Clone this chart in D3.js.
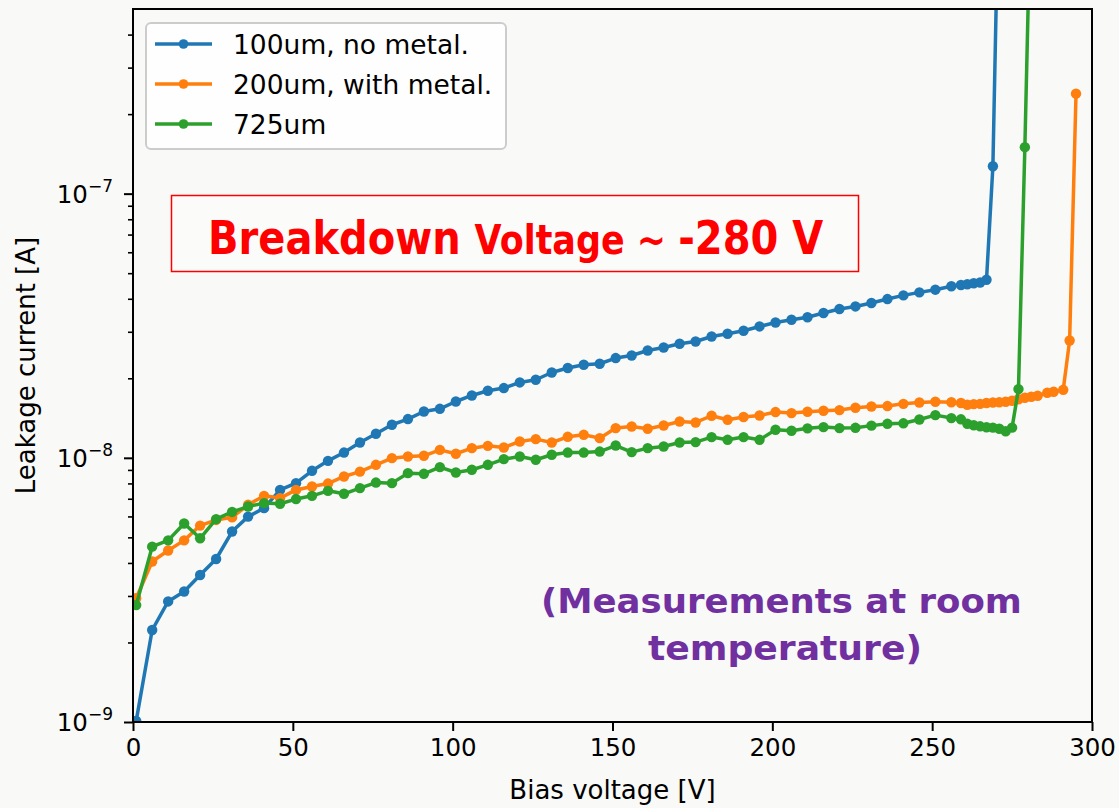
<!DOCTYPE html>
<html>
<head>
<meta charset="utf-8">
<script src="https://cdn.jsdelivr.net/npm/d3@7"></script>
<style>
  html, body { margin: 0; padding: 0; background: #f9f9f7; }
  svg { display: block; }
  text { font-family: "DejaVu Sans", sans-serif; }
</style>
</head>
<body>
<svg id="chart" width="1119" height="808"></svg>
<script>
// ---- data: bias voltage [V] and leakage current [A] per sensor ----
const seriesNames = ["100um, no metal.", "200um, with metal.", "725um"];
const seriesColors = ["#1f77b4", "#ff7f0e", "#2ca02c"];

const voltage100 = [1, 6, 11, 16, 21, 26, 31, 36, 41, 46, 51, 56, 61, 66, 71, 76, 81, 86, 91, 96,
  101, 106, 111, 116, 121, 126, 131, 136, 141, 146, 151, 156, 161, 166, 171, 176, 181, 186, 191, 196,
  201, 206, 211, 216, 221, 226, 231, 236, 241, 246, 251, 256, 259, 261, 263, 265, 267, 269, 271];
const current100 = [1.01e-9, 2.23e-9, 2.86e-9, 3.12e-9, 3.60e-9, 4.14e-9, 5.26e-9, 5.99e-9, 6.45e-9, 7.56e-9,
  8.02e-9, 8.93e-9, 9.74e-9, 1.047e-8, 1.143e-8, 1.233e-8, 1.334e-8, 1.402e-8, 1.498e-8, 1.533e-8,
  1.634e-8, 1.722e-8, 1.794e-8, 1.837e-8, 1.929e-8, 1.975e-8, 2.104e-8, 2.187e-8, 2.251e-8, 2.270e-8,
  2.386e-8, 2.440e-8, 2.549e-8, 2.617e-8, 2.703e-8, 2.757e-8, 2.880e-8, 2.949e-8, 3.027e-8, 3.143e-8,
  3.254e-8, 3.332e-8, 3.405e-8, 3.532e-8, 3.659e-8, 3.742e-8, 3.855e-8, 3.990e-8, 4.120e-8, 4.230e-8,
  4.330e-8, 4.460e-8, 4.510e-8, 4.540e-8, 4.580e-8, 4.610e-8, 4.720e-8, 1.27e-7, 2.0e-6];

const voltage200 = [1, 6, 11, 16, 21, 26, 31, 36, 41, 46, 51, 56, 61, 66, 71, 76, 81, 86, 91, 96,
  101, 106, 111, 116, 121, 126, 131, 136, 141, 146, 151, 156, 161, 166, 171, 176, 181, 186, 191, 196,
  201, 206, 211, 216, 221, 226, 231, 236, 241, 246, 251, 256, 259, 261, 263, 265, 267, 269, 271, 273,
  275, 277, 279, 281, 283, 286, 288, 291, 293, 295];
const current200 = [2.94e-9, 4.05e-9, 4.46e-9, 4.87e-9, 5.54e-9, 5.82e-9, 5.95e-9, 6.64e-9, 7.18e-9, 7.04e-9,
  7.56e-9, 7.79e-9, 7.99e-9, 8.50e-9, 8.87e-9, 9.41e-9, 9.97e-9, 1.012e-8, 1.018e-8, 1.072e-8,
  1.036e-8, 1.088e-8, 1.110e-8, 1.094e-8, 1.153e-8, 1.177e-8, 1.143e-8, 1.201e-8, 1.222e-8, 1.187e-8,
  1.296e-8, 1.314e-8, 1.288e-8, 1.326e-8, 1.373e-8, 1.361e-8, 1.443e-8, 1.393e-8, 1.427e-8, 1.446e-8,
  1.490e-8, 1.477e-8, 1.494e-8, 1.507e-8, 1.516e-8, 1.547e-8, 1.564e-8, 1.570e-8, 1.601e-8, 1.620e-8,
  1.630e-8, 1.623e-8, 1.612e-8, 1.588e-8, 1.597e-8, 1.601e-8, 1.612e-8, 1.620e-8, 1.623e-8, 1.630e-8,
  1.644e-8, 1.666e-8, 1.688e-8, 1.703e-8, 1.718e-8, 1.763e-8, 1.778e-8, 1.809e-8, 2.78e-8, 2.39e-7];

const voltage725 = [1, 6, 11, 16, 21, 26, 31, 36, 41, 46, 51, 56, 61, 66, 71, 76, 81, 86, 91, 96,
  101, 106, 111, 116, 121, 126, 131, 136, 141, 146, 151, 156, 161, 166, 171, 176, 181, 186, 191, 196,
  201, 206, 211, 216, 221, 226, 231, 236, 241, 246, 251, 256, 259, 261, 263, 265, 267, 269, 271, 273,
  275, 277, 279, 281];
const current725 = [2.77e-9, 4.61e-9, 4.87e-9, 5.64e-9, 4.96e-9, 5.86e-9, 6.24e-9, 6.54e-9, 6.74e-9, 6.70e-9,
  6.98e-9, 7.18e-9, 7.50e-9, 7.31e-9, 7.68e-9, 8.06e-9, 8.02e-9, 8.75e-9, 8.70e-9, 9.22e-9,
  8.80e-9, 9.01e-9, 9.41e-9, 9.89e-9, 1.012e-8, 9.83e-9, 1.027e-8, 1.047e-8, 1.047e-8, 1.056e-8,
  1.113e-8, 1.051e-8, 1.088e-8, 1.104e-8, 1.143e-8, 1.147e-8, 1.198e-8, 1.170e-8, 1.198e-8, 1.170e-8,
  1.277e-8, 1.266e-8, 1.293e-8, 1.307e-8, 1.296e-8, 1.299e-8, 1.324e-8, 1.345e-8, 1.351e-8, 1.397e-8,
  1.451e-8, 1.414e-8, 1.399e-8, 1.345e-8, 1.328e-8, 1.316e-8, 1.305e-8, 1.301e-8, 1.288e-8, 1.260e-8,
  1.301e-8, 1.820e-8, 1.50e-7, 1.68e-6];

const xTicks = [0, 50, 100, 150, 200, 250, 300];
const yMajorTicks = [1e-9, 1e-8, 1e-7];
const yMajorExponents = ["\u22129", "\u22128", "\u22127"];
const yMinorTicks = [2e-9, 3e-9, 4e-9, 5e-9, 6e-9, 7e-9, 8e-9, 9e-9,
  2e-8, 3e-8, 4e-8, 5e-8, 6e-8, 7e-8, 8e-8, 9e-8, 2e-7, 3e-7, 4e-7];

const xLabel = "Bias voltage [V]";
const yLabel = "Leakage current [A]";

// ---- layout ----
const plot = { left: 133, right: 1092, top: 9, bottom: 722 };
const svg = d3.select("#chart");

svg.append("rect").attr("width", 1119).attr("height", 808).attr("fill", "#f9f9f7");

const x = d3.scaleLinear().domain([0, 300]).range([plot.left, plot.right]);
const y = d3.scaleLog().domain([1e-9, 5e-7]).range([plot.bottom, plot.top]);

svg.append("clipPath").attr("id", "plot-clip")
  .append("rect")
  .attr("x", plot.left).attr("y", plot.top)
  .attr("width", plot.right - plot.left).attr("height", plot.bottom - plot.top);

// ---- series ----
const series = [
  { name: seriesNames[0], color: seriesColors[0], v: voltage100, i: current100 },
  { name: seriesNames[1], color: seriesColors[1], v: voltage200, i: current200 },
  { name: seriesNames[2], color: seriesColors[2], v: voltage725, i: current725 }
];

const line = d3.line().x(d => x(d[0])).y(d => y(d[1]));
const dataLayer = svg.append("g").attr("clip-path", "url(#plot-clip)");

series.forEach(s => {
  const pts = s.v.map((v, k) => [v, s.i[k]]);
  const g = dataLayer.append("g");
  g.append("path")
    .datum(pts)
    .attr("d", line)
    .attr("fill", "none")
    .attr("stroke", s.color)
    .attr("stroke-width", 3.5)
    .attr("stroke-linejoin", "round");
  g.selectAll("circle")
    .data(pts)
    .join("circle")
    .attr("cx", d => x(d[0]))
    .attr("cy", d => y(d[1]))
    .attr("r", 5.2)
    .attr("fill", s.color);
});

// ---- axes ----
const xAxis = svg.append("g")
  .attr("transform", `translate(0,${plot.bottom})`)
  .call(d3.axisBottom(x).tickValues(xTicks).tickSize(9).tickPadding(8).tickFormat(d3.format("d")));
xAxis.select(".domain").remove();
xAxis.selectAll(".tick line").attr("stroke", "#000").attr("stroke-width", 2);
xAxis.selectAll(".tick text")
  .attr("font-family", "DejaVu Sans")
  .attr("font-size", 24.5)
  .style("fill", "#000");

const yAxisMajor = svg.append("g")
  .attr("transform", `translate(${plot.left},0)`)
  .call(d3.axisLeft(y).tickValues(yMajorTicks).tickSize(9).tickFormat(""));
yAxisMajor.select(".domain").remove();
yAxisMajor.selectAll(".tick line").attr("stroke", "#000").attr("stroke-width", 2);

const yAxisMinor = svg.append("g")
  .attr("transform", `translate(${plot.left},0)`)
  .call(d3.axisLeft(y).tickValues(yMinorTicks).tickSize(5).tickFormat(""));
yAxisMinor.select(".domain").remove();
yAxisMinor.selectAll(".tick line").attr("stroke", "#000").attr("stroke-width", 1.6);

// 10^n labels
yMajorTicks.forEach((t, k) => {
  const lbl = svg.append("text")
    .attr("x", plot.left - 20)
    .attr("y", y(t) + 9)
    .attr("text-anchor", "end")
    .attr("font-size", 24.5)
    .style("fill", "#000");
  lbl.append("tspan").text("10");
  lbl.append("tspan").attr("font-size", 17).attr("dy", -11).text(yMajorExponents[k]);
});

// spines
svg.append("rect")
  .attr("x", plot.left).attr("y", plot.top)
  .attr("width", plot.right - plot.left).attr("height", plot.bottom - plot.top)
  .attr("fill", "none").attr("stroke", "#000").attr("stroke-width", 2);

// axis titles
svg.append("text")
  .attr("x", (plot.left + plot.right) / 2)
  .attr("y", 799)
  .attr("text-anchor", "middle")
  .attr("font-size", 26)
  .style("fill", "#000")
  .text(xLabel);

svg.append("text")
  .attr("transform", `translate(35,${(plot.top + plot.bottom) / 2}) rotate(-90)`)
  .attr("text-anchor", "middle")
  .attr("font-size", 26)
  .style("fill", "#000")
  .text(yLabel);

// ---- legend ----
const legend = svg.append("g");
legend.append("rect")
  .attr("x", 146).attr("y", 23).attr("width", 360).attr("height", 126)
  .attr("rx", 5).attr("ry", 5)
  .attr("fill", "#ffffff").attr("fill-opacity", 0.8)
  .attr("stroke", "#cccccc").attr("stroke-width", 2);
series.forEach((s, k) => {
  const cy = 44 + k * 40;
  legend.append("line")
    .attr("x1", 155).attr("x2", 212).attr("y1", cy).attr("y2", cy)
    .attr("stroke", s.color).attr("stroke-width", 3.5);
  legend.append("circle").attr("cx", 183.5).attr("cy", cy).attr("r", 4.8).attr("fill", s.color);
  legend.append("text")
    .attr("x", 233).attr("y", cy + 10)
    .attr("font-size", 26.5)
    .style("fill", "#000")
    .text(s.name);
});

// ---- annotations ----
const annoFont = "Roboto, 'Noto Sans', sans-serif";

// place a text at (x0, baseline) and squeeze it horizontally to the given width
function fitWidth(sel, x0, baseline, width) {
  const w = sel.node().getBBox().width;
  sel.attr("transform", `translate(${x0},${baseline}) scale(${width / w},1)`);
}

svg.append("rect")
  .attr("x", 171.5).attr("y", 195.5).attr("width", 687).attr("height", 76)
  .attr("fill", "#fbfbf9").attr("stroke", "#ff0000").attr("stroke-width", 1.5);

const breakdown = svg.append("text")
  .attr("x", 0).attr("y", 0)
  .attr("font-family", annoFont)
  .attr("font-weight", 700)
  .style("fill", "#ff0000");
breakdown.append("tspan").attr("font-size", 47).text("Breakdown ");
breakdown.append("tspan").attr("font-size", 41).text("Voltage ~ ");
breakdown.append("tspan").attr("font-size", 47).text("-280 V");
fitWidth(breakdown, 208, 254, 616);

const noteLines = ["(Measurements at room", "temperature)"];
const notePlacement = [[541, 613, 481], [648, 660, 274]];
noteLines.forEach((str, k) => {
  const t = svg.append("text")
    .attr("x", 0).attr("y", 0)
    .attr("font-family", annoFont)
    .attr("font-weight", 900)
    .attr("font-size", 33)
    .style("fill", "#7030a0")
    .text(str);
  fitWidth(t, notePlacement[k][0], notePlacement[k][1], notePlacement[k][2]);
});
</script>
</body>
</html>
